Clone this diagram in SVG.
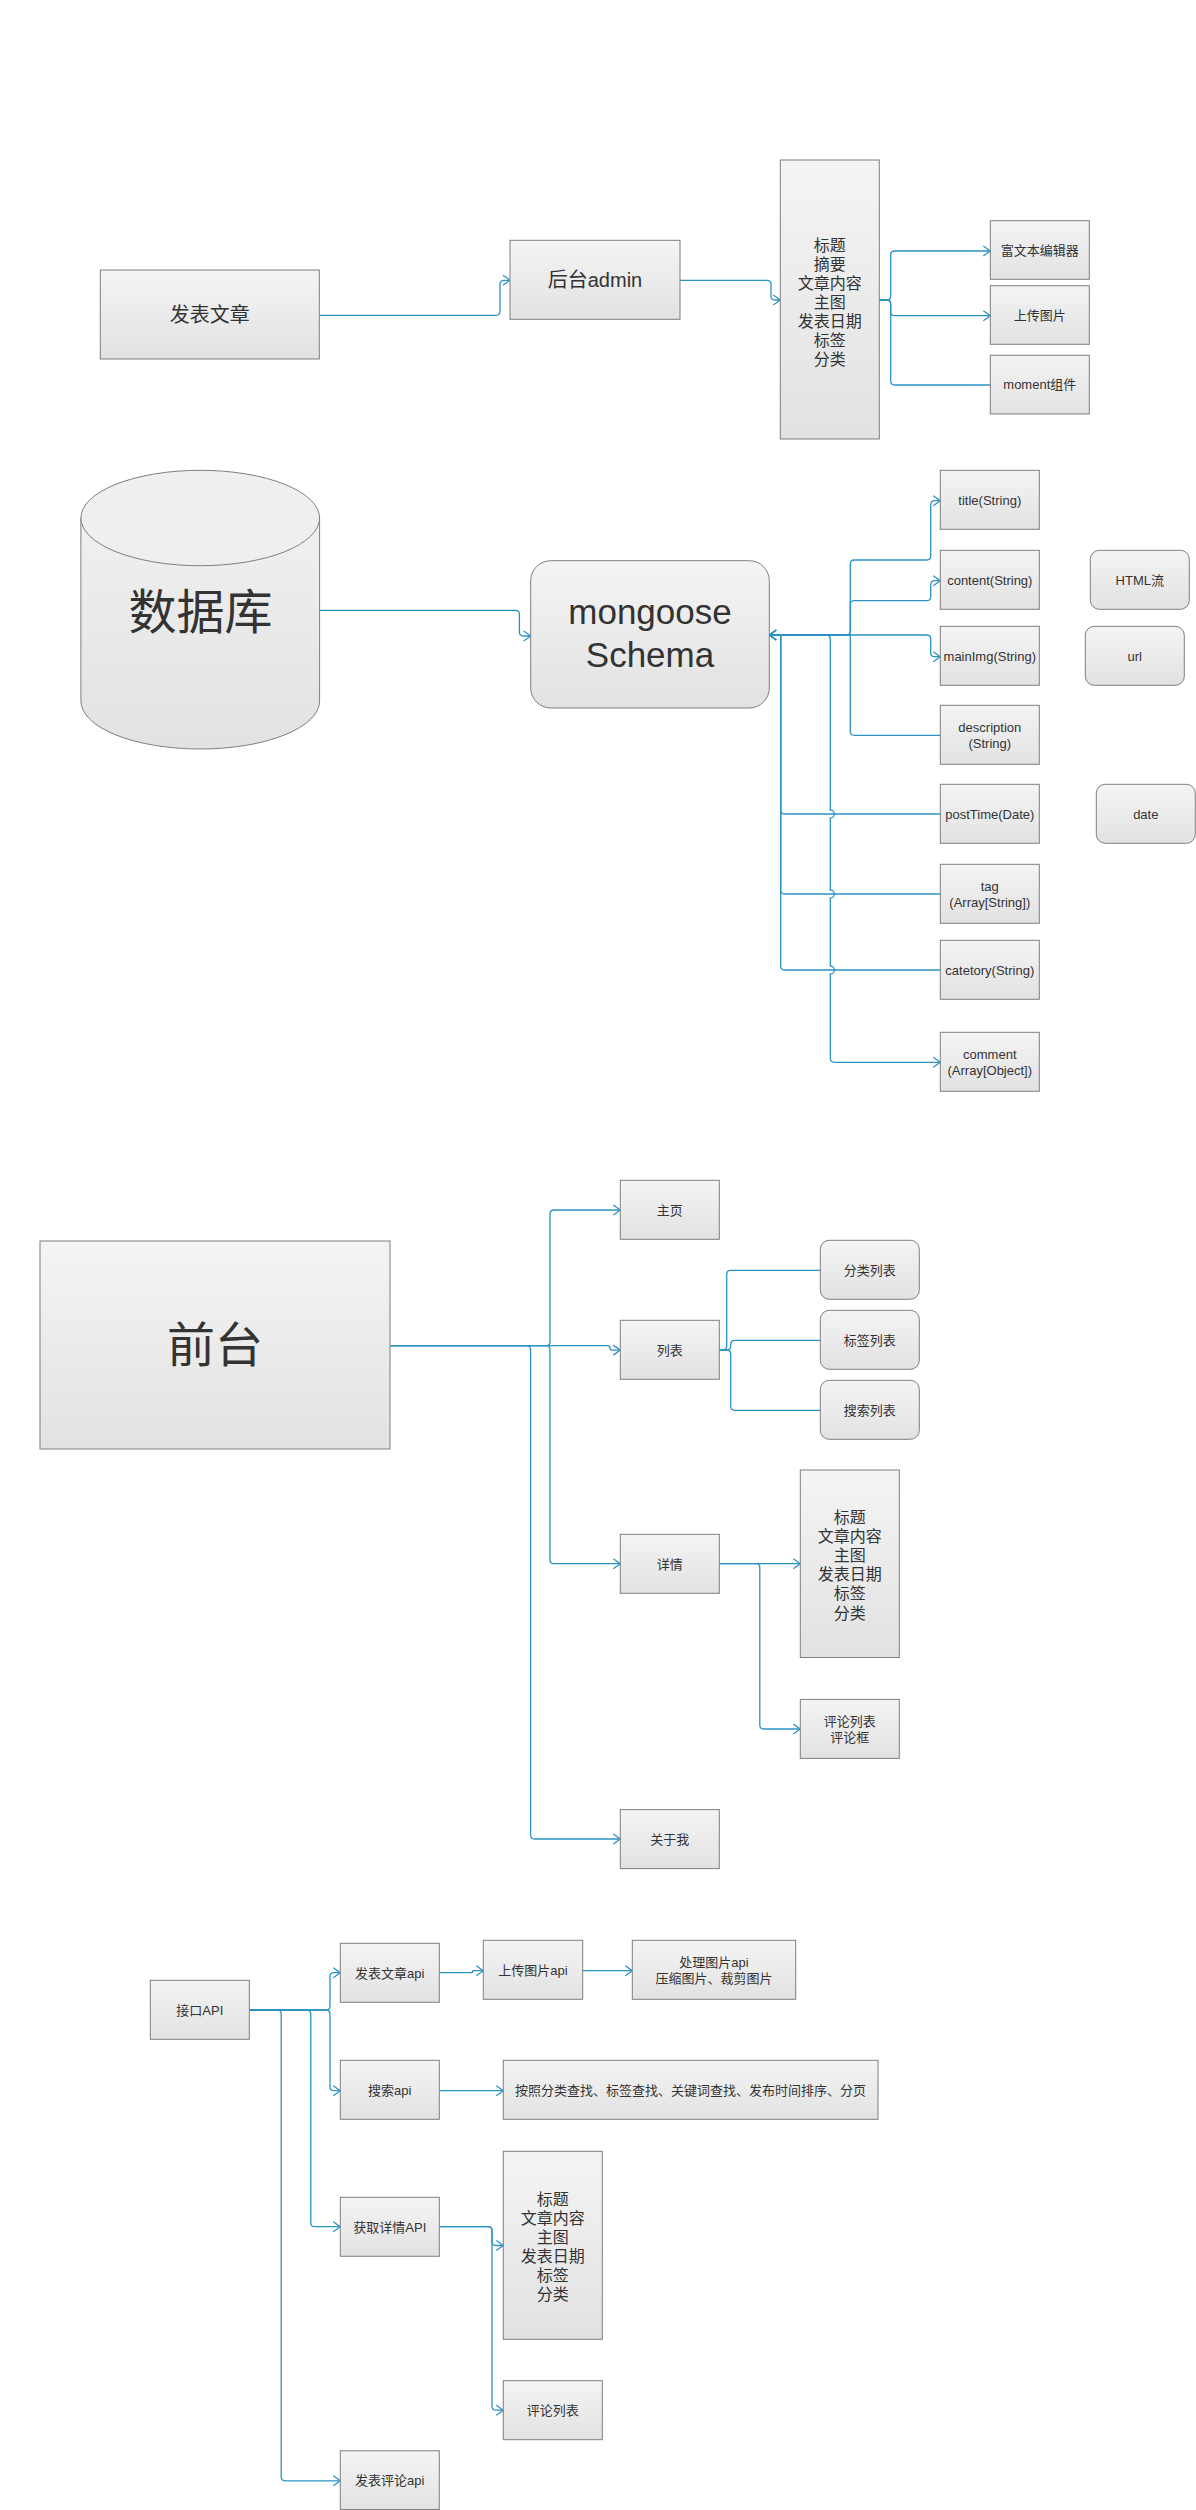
<svg xmlns="http://www.w3.org/2000/svg" width="1196" height="2510" viewBox="0 0 1196 2510">
<style>
.box{fill:url(#g);stroke:#7f7f7f;stroke-width:1}
.t{font-family:"Liberation Sans","Noto Sans CJK SC",sans-serif;fill:#333;text-anchor:middle;dominant-baseline:central;font-size:13px}
.t16{font-size:16px}
.t20{font-size:20px}
.t48{font-size:48px}
.c{fill:none;stroke:#2b93c4;stroke-width:1.3}
.a{marker-end:url(#arr)}
</style>
<defs>
<linearGradient id="g" x1="0" y1="0" x2="0" y2="1">
<stop offset="0" stop-color="#f4f4f4"/>
<stop offset="1" stop-color="#e2e2e2"/>
</linearGradient>
<linearGradient id="gc" x1="0" y1="0" x2="0" y2="1">
<stop offset="0" stop-color="#f0f0f0"/>
<stop offset="1" stop-color="#e2e2e2"/>
</linearGradient>
<marker id="arr" markerUnits="userSpaceOnUse" markerWidth="12" markerHeight="12" viewBox="-9 -6 10 12" refX="0" refY="0" orient="auto">
<path d="M-7,-5 L0,0 L-7,5" fill="none" stroke="#2b93c4" stroke-width="1.3"/>
</marker>
</defs>
<rect width="1196" height="2510" fill="#fff"/>

<g id="connectors">
<!-- section 1 -->
<path class="c a" d="M319.3,315.3 H496 q4,0 4,-4 V284.3 q0,-4 4,-4 H510"/>
<path class="c a" d="M680,280.3 H767 q4,0 4,4 V296 q0,4 4,4 H780.3"/>
<path class="c a" d="M879.3,300 H886.7 q4,0 4,-4 V255 q0,-4 4,-4 H990.3"/>
<path class="c a" d="M879.3,300 H886.7 q4,0 4,4 V311.7 q0,4 4,4 H990.3"/>
<path class="c" d="M879.3,300 H886.7 q4,0 4,4 V381 q0,4 4,4 H990.3"/>
<!-- section 2 -->
<path class="c a" d="M319.6,610.4 H515.4 q4,0 4,4 V632 q0,4 4,4 H530.7"/>
<path class="c a" d="M769.3,635 H846.3 q4,0 4,-4 V564 q0,-4 4,-4 H926.7 q4,0 4,-4 V504.7 q0,-4 4,-4 H940.3"/>
<path class="c a" d="M769.3,635 H846.3 q4,0 4,-4 V604.7 q0,-4 4,-4 H926.7 q4,0 4,-4 V584.7 q0,-4 4,-4 H940.3"/>
<path class="c a" d="M769.3,635 H926.7 q4,0 4,4 V652.7 q0,4 4,4 H940.3"/>
<path class="c a" d="M940.3,735.3 H854.3 q-4,0 -4,-4 V635 H769.3"/>
<path class="c a" d="M940.3,814 H784.7 q-4,0 -4,-4 V635 H769.3"/>
<path class="c a" d="M940.3,894 H784.7 q-4,0 -4,-4 V635 H769.3"/>
<path class="c a" d="M940.3,970 H784.7 q-4,0 -4,-4 V635 H769.3"/>
<path class="c a" d="M769.3,635 H826.3 q4,0 4,4 V810 a4,4 0 0 1 0,8 V890 a4,4 0 0 1 0,8 V966 a4,4 0 0 1 0,8 V1058.3 q0,4 4,4 H940.3"/>
<!-- section 3 -->
<path class="c a" d="M390,1345.7 H546 q4,0 4,-4 V1214 q0,-4 4,-4 H620.3"/>
<path class="c a" d="M390,1345.7 H607.5 q2.5,0 2.5,2.2 q0,2.2 2.5,2.2 H620.3"/>
<path class="c a" d="M390,1345.7 H546 q4,0 4,4 V1559.7 q0,4 4,4 H620.3"/>
<path class="c a" d="M390,1345.7 H526.6 q4,0 4,4 V1835 q0,4 4,4 H620.3"/>
<path class="c" d="M719.3,1350 H722.7 q4,0 4,-4 V1274.3 q0,-4 4,-4 H820.3"/>
<path class="c" d="M719.3,1350 H726.7 q4,0 4,-4 V1344.3 q0,-4 4,-4 H820.3"/>
<path class="c" d="M719.3,1350 H726.7 q4,0 4,4 V1406.3 q0,4 4,4 H820.3"/>
<path class="c a" d="M719.3,1563.7 H800.3"/>
<path class="c a" d="M719.3,1563.7 H755.8 q4,0 4,4 V1725 q0,4 4,4 H800.3"/>
<!-- section 4 -->
<path class="c a" d="M249.3,2010 H326 q4,0 4,-4 V1976.7 q0,-4 4,-4 H340.3"/>
<path class="c a" d="M249.3,2010 H326 q4,0 4,4 V2086.7 q0,4 4,4 H340.3"/>
<path class="c a" d="M249.3,2010 H306.8 q4,0 4,4 V2222.7 q0,4 4,4 H340.3"/>
<path class="c a" d="M249.3,2010 H277.2 q4,0 4,4 V2476.8 q0,4 4,4 H340.3"/>
<path class="c a" d="M439.3,1972.7 H470 q3,0 3,-2 q0,0 3,0 H483.3"/>
<path class="c a" d="M582.7,1970.7 H632.3"/>
<path class="c a" d="M439.3,2090.7 H503.3"/>
<path class="c a" d="M439.3,2226.7 H488 q4,0 4,4 V2241.5 q0,4 4,4 H503.3"/>
<path class="c a" d="M439.3,2226.7 H488 q4,0 4,4 V2406.2 q0,4 4,4 H503.3"/>
</g>

<g id="n-fabiaowenzhang"><rect class="box" x="100.3" y="270" width="219" height="89"/><text class="t t20" x="209.8" y="314.5">发表文章</text></g>
<g id="n-admin"><rect class="box" x="510" y="240.3" width="170" height="79"/><text class="t t20" x="595" y="280">后台admin</text></g>
<g id="n-fields1"><rect class="box" x="780.3" y="160" width="99" height="279"/>
<text class="t t16" x="829.8" y="245">标题</text>
<text class="t t16" x="829.8" y="264">摘要</text>
<text class="t t16" x="829.8" y="283">文章内容</text>
<text class="t t16" x="829.8" y="302">主图</text>
<text class="t t16" x="829.8" y="321">发表日期</text>
<text class="t t16" x="829.8" y="340">标签</text>
<text class="t t16" x="829.8" y="359">分类</text></g>
<g id="n-editor"><rect class="box" x="990.3" y="220.7" width="99" height="58.6"/><text class="t" x="1039.8" y="250">富文本编辑器</text></g>
<g id="n-upload"><rect class="box" x="990.3" y="285.7" width="99" height="58.6"/><text class="t" x="1039.8" y="315">上传图片</text></g>
<g id="n-moment"><rect class="box" x="990.3" y="355.3" width="99" height="58.7"/><text class="t" x="1039.8" y="384.7">moment组件</text></g>

<g id="n-db">
<path d="M80.9,518 V701 A119.35,48 0 0 0 319.6,701 V518 Z" fill="url(#gc)" stroke="#7f7f7f" stroke-width="1"/>
<ellipse cx="200.25" cy="518" rx="119.35" ry="47.7" fill="#efefef" stroke="#7f7f7f" stroke-width="1"/>
<text class="t t48" x="200.5" y="612">数据库</text>
</g>
<g id="n-mongoose"><rect class="box" x="530.7" y="560.7" width="238.6" height="147.3" rx="20"/>
<text class="t" style="font-size:35px" x="650" y="611">mongoose</text>
<text class="t" style="font-size:35px" x="650" y="654">Schema</text></g>
<g id="n-title"><rect class="box" x="940.3" y="470.3" width="99" height="59"/><text class="t" x="989.8" y="500">title(String)</text></g>
<g id="n-content"><rect class="box" x="940.3" y="550.3" width="99" height="59"/><text class="t" x="989.8" y="580">content(String)</text></g>
<g id="n-mainimg"><rect class="box" x="940.3" y="626.3" width="99" height="59"/><text class="t" x="989.8" y="656">mainImg(String)</text></g>
<g id="n-desc"><rect class="box" x="940.3" y="705.3" width="99" height="59"/><text class="t" x="989.8" y="727.3">description</text><text class="t" x="989.8" y="743.3">(String)</text></g>
<g id="n-posttime"><rect class="box" x="940.3" y="784.3" width="99" height="59"/><text class="t" x="989.8" y="814">postTime(Date)</text></g>
<g id="n-tag"><rect class="box" x="940.3" y="864.3" width="99" height="59"/><text class="t" x="989.8" y="886.7">tag</text><text class="t" x="989.8" y="902.7">(Array[String])</text></g>
<g id="n-catetory"><rect class="box" x="940.3" y="940.3" width="99" height="59"/><text class="t" x="989.8" y="970">catetory(String)</text></g>
<g id="n-comment"><rect class="box" x="940.3" y="1032.3" width="99" height="59"/><text class="t" x="989.8" y="1054.3">comment</text><text class="t" x="989.8" y="1070.3">(Array[Object])</text></g>
<g id="n-html"><rect class="box" x="1090.3" y="550.3" width="99" height="59" rx="9"/><text class="t" x="1139.8" y="580">HTML流</text></g>
<g id="n-url"><rect class="box" x="1085.3" y="626.3" width="99" height="59" rx="9"/><text class="t" x="1134.8" y="656">url</text></g>
<g id="n-date"><rect class="box" x="1096.3" y="784.3" width="99" height="59" rx="9"/><text class="t" x="1145.8" y="814">date</text></g>

<g id="n-qiantai"><rect class="box" x="40" y="1241" width="350" height="208"/><text class="t t48" x="215" y="1345">前台</text></g>
<g id="n-home"><rect class="box" x="620.3" y="1180.3" width="99" height="59"/><text class="t" x="669.8" y="1210">主页</text></g>
<g id="n-list"><rect class="box" x="620.3" y="1320.3" width="99" height="59"/><text class="t" x="669.8" y="1350">列表</text></g>
<g id="n-catlist"><rect class="box" x="820.3" y="1240.3" width="99" height="59" rx="9"/><text class="t" x="869.8" y="1270">分类列表</text></g>
<g id="n-taglist"><rect class="box" x="820.3" y="1310.3" width="99" height="59" rx="9"/><text class="t" x="869.8" y="1340">标签列表</text></g>
<g id="n-searchlist"><rect class="box" x="820.3" y="1380.3" width="99" height="59" rx="9"/><text class="t" x="869.8" y="1410">搜索列表</text></g>
<g id="n-detail"><rect class="box" x="620.3" y="1534.3" width="99" height="59"/><text class="t" x="669.8" y="1564">详情</text></g>
<g id="n-fields2"><rect class="box" x="800.3" y="1470" width="99" height="187.5"/>
<text class="t t16" x="849.8" y="1517.5">标题</text>
<text class="t t16" x="849.8" y="1536.6">文章内容</text>
<text class="t t16" x="849.8" y="1555.7">主图</text>
<text class="t t16" x="849.8" y="1574.8">发表日期</text>
<text class="t t16" x="849.8" y="1593.9">标签</text>
<text class="t t16" x="849.8" y="1613">分类</text></g>
<g id="n-comments"><rect class="box" x="800.3" y="1699.4" width="99" height="59"/><text class="t" x="849.8" y="1721">评论列表</text><text class="t" x="849.8" y="1737">评论框</text></g>
<g id="n-about"><rect class="box" x="620.3" y="1809.6" width="99" height="59"/><text class="t" x="669.8" y="1839">关于我</text></g>

<g id="n-api"><rect class="box" x="150.3" y="1980.3" width="99" height="59"/><text class="t" x="199.8" y="2010">接口API</text></g>
<g id="n-postapi"><rect class="box" x="340.3" y="1943.3" width="99" height="59"/><text class="t" x="389.8" y="1973">发表文章api</text></g>
<g id="n-uploadapi"><rect class="box" x="483.3" y="1940.3" width="99.4" height="59"/><text class="t" x="533" y="1970">上传图片api</text></g>
<g id="n-imgapi"><rect class="box" x="632.3" y="1940.3" width="163.4" height="59"/><text class="t" x="714" y="1962">处理图片api</text><text class="t" x="714" y="1978">压缩图片、裁剪图片</text></g>
<g id="n-searchapi"><rect class="box" x="340.3" y="2060.3" width="99" height="59"/><text class="t" x="389.8" y="2090">搜索api</text></g>
<g id="n-searchdesc"><rect class="box" x="503.3" y="2060.3" width="374.7" height="59"/><text class="t" x="690.6" y="2090">按照分类查找、标签查找、关键词查找、发布时间排序、分页</text></g>
<g id="n-detailapi"><rect class="box" x="340.3" y="2197.3" width="99" height="59"/><text class="t" x="389.8" y="2227">获取详情API</text></g>
<g id="n-fields3"><rect class="box" x="503.3" y="2151.3" width="99" height="188"/>
<text class="t t16" x="552.8" y="2199.6">标题</text>
<text class="t t16" x="552.8" y="2218.6">文章内容</text>
<text class="t t16" x="552.8" y="2237.6">主图</text>
<text class="t t16" x="552.8" y="2256.6">发表日期</text>
<text class="t t16" x="552.8" y="2275.6">标签</text>
<text class="t t16" x="552.8" y="2294.6">分类</text></g>
<g id="n-commentlist"><rect class="box" x="503.3" y="2380.7" width="99" height="59"/><text class="t" x="552.8" y="2410.2">评论列表</text></g>
<g id="n-commentapi"><rect class="box" x="340.3" y="2450.8" width="99" height="58.7"/><text class="t" x="389.8" y="2480.3">发表评论api</text></g>
</svg>
